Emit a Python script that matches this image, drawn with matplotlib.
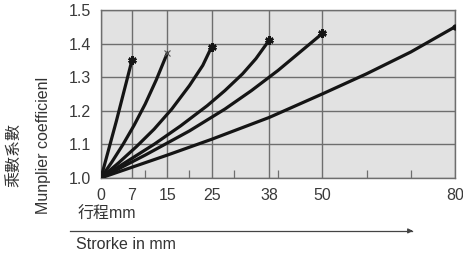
import numpy as np
import matplotlib.pyplot as plt

plt.rcParams['font.family'] = ['Liberation Sans', 'Noto Sans CJK TC']

# Data: stroke (mm) vs multiplier coefficient
stroke_7 = [0, 3.5, 7]
coef_7 = [1.0, 1.17, 1.35]

stroke_15 = [0, 2.5, 5, 7.5, 10, 12.5, 15]
coef_15 = [1.0, 1.048, 1.1, 1.157, 1.22, 1.292, 1.372]

stroke_25 = [0, 4, 8, 12, 16, 20, 23, 25]
coef_25 = [1.0, 1.045, 1.093, 1.145, 1.205, 1.275, 1.335, 1.39]

stroke_38 = [0, 6, 12, 18, 24, 28, 32, 35, 38]
coef_38 = [1.0, 1.05, 1.10, 1.155, 1.215, 1.26, 1.31, 1.355, 1.41]

stroke_50 = [0, 10, 20, 28, 34, 40, 45, 50]
coef_50 = [1.0, 1.068, 1.14, 1.205, 1.26, 1.32, 1.375, 1.43]

stroke_80 = [0, 15, 25, 38, 50, 60, 70, 80]
coef_80 = [1.0, 1.068, 1.115, 1.18, 1.25, 1.31, 1.375, 1.45]

series = [(stroke_7, coef_7), (stroke_15, coef_15), (stroke_25, coef_25),
          (stroke_38, coef_38), (stroke_50, coef_50), (stroke_80, coef_80)]

x_ticks = [0, 7, 15, 25, 38, 50, 80]
minor_ticks = [10, 20, 30, 40, 60, 70]
y_ticks = [1.0, 1.1, 1.2, 1.3, 1.4, 1.5]

fig = plt.figure(figsize=(4.63, 2.56), dpi=100)
ax = fig.add_axes([0.218, 0.305, 0.765, 0.656])
ax.set_facecolor('#e2e2e2')

for i, (xs, ys) in enumerate(series):
    ax.plot(xs, ys, color='#151515', lw=2.3, solid_capstyle='round',
            solid_joinstyle='round', zorder=3)
    if i == 1:
        ax.plot(xs[-1], ys[-1], marker='x', ms=4, mew=0.8,
                color='#555555', zorder=4)
    elif i == 5:
        ax.plot(xs[-1], ys[-1], marker='o', ms=3.5, color='#151515', zorder=4)
    else:
        ax.plot(xs[-1], ys[-1], marker=(6, 2, 0), ms=6, mew=1.8,
                color='#151515', zorder=4)

ax.set_xlim(0, 80)
ax.set_ylim(1.0, 1.5)
ax.set_xticks(x_ticks)
ax.set_yticks(y_ticks)
ax.set_yticklabels([f'{v:.1f}' for v in y_ticks])
ax.set_xticks(minor_ticks, minor=True)
ax.grid(True, which='major', color='#6e6e6e', lw=1.0, zorder=1)
ax.tick_params(which='major', length=0, labelsize=11.5, colors='#3a3a3a', pad=7)
ax.tick_params(which='minor', direction='in', length=6, width=0.9,
               color='#6e6e6e', bottom=True)
for s in ax.spines.values():
    s.set_color('#6e6e6e')
    s.set_linewidth(1.0)

fig.text(0.032, 0.395, '乘數系數', rotation=90, fontsize=11.5,
         color='#333333', ha='center', va='center')
fig.text(0.093, 0.43, 'Munplier coefficienl', rotation=90, fontsize=11.5,
         color='#333333', ha='center', va='center')

fig.text(0.168, 0.163, '行程mm', fontsize=11.5, color='#333333',
         ha='left', va='center')
fig.text(0.165, 0.045, 'Strorke in mm', fontsize=11.5, color='#333333',
         ha='left', va='center')
fig.add_artist(plt.Line2D([0.151, 0.89], [0.098, 0.098], color='#444444',
                          lw=0.9, transform=fig.transFigure))
ax.annotate('', xy=(0.898, 0.098), xytext=(0.88, 0.098),
            xycoords='figure fraction', textcoords='figure fraction',
            arrowprops=dict(arrowstyle='-|>', color='#444444', lw=0.9,
                            mutation_scale=7))

fig.savefig('out.png', dpi=100, facecolor='white')
